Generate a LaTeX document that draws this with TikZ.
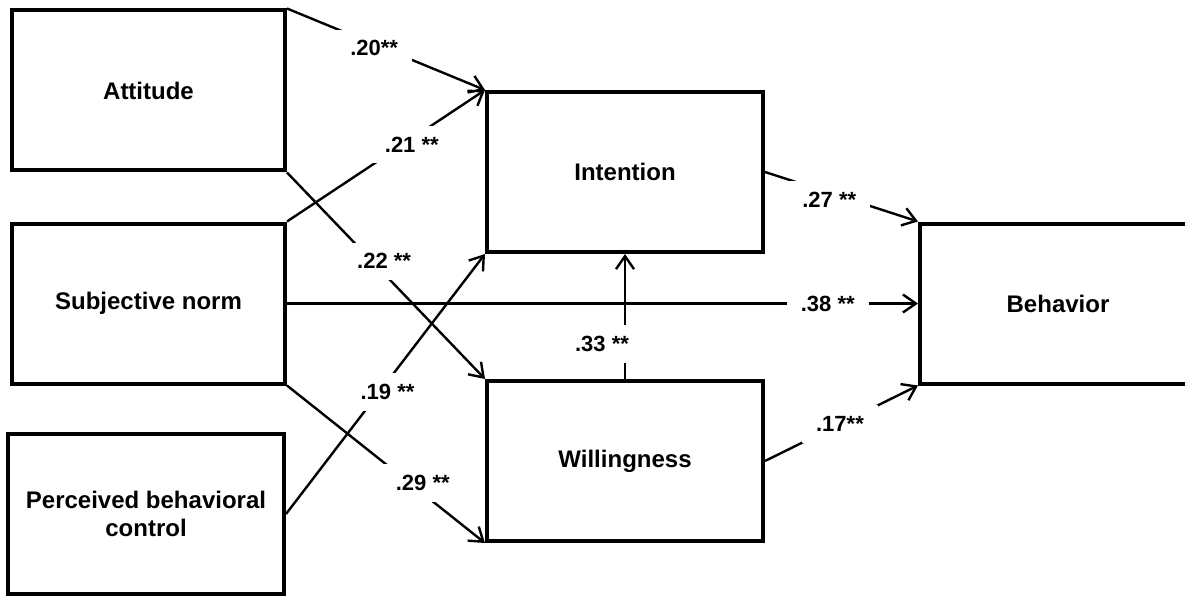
\documentclass[tikz,border=0pt]{standalone}
\usepackage{fontspec}
\setmainfont{Liberation Sans}
\usetikzlibrary{arrows.meta}

\begin{document}
\begin{tikzpicture}[x=1pt,y=-1pt,
    box/.style={draw, line width=4pt, minimum width=276pt, minimum height=160pt, align=center, font=\bfseries\fontsize{24}{28}\selectfont},
    link/.style={line width=2.4pt, ->},
    coef/.style={fill=white, inner xsep=14pt, inner ysep=11pt, font=\bfseries\fontsize{22}{24}\selectfont},
    >={Straight Barb[length=13pt,width=18pt]}]
    \useasboundingbox (0,0) rectangle (1185,596);
    \node[box, minimum width=273pt] (att) at (148.5,90.5) {Attitude};
    \node[box, minimum width=273pt] (sn) at (148.5,303.5) {Subjective norm};
    \node[box] (pbc) at (146,514) {Perceived behavioral\\control};
    \node[box] (int) at (625,172) {Intention};
    \node[box] (wil) at (625,461) {Willingness};
    \node[box] (beh) at (1058,303.5) {Behavior};
    \draw[link] (att.north east) -- (int.north west) node[coef, pos=.44, yshift=-4pt] {.20**};
    \draw[link] (sn.north east) -- (int.north west) node[coef, pos=.6, xshift=6pt, yshift=-2pt] {.21 **};
    \draw[link] (att.south east) -- (wil.north west) node[coef, pos=.43, xshift=12pt] {.22 **};
    \draw[link] (pbc.east) -- (int.south west) node[coef, pos=.47, xshift=8pt] {.19 **};
    \draw[link] (sn.south east) -- (wil.south west) node[coef, pos=.62, xshift=13pt] {.29 **};
    \draw[link] (sn.east) -- (beh.west) node[coef, pos=.857] {.38 **};
    \draw[link] (int.east) -- (beh.north west) node[coef, pos=.42, yshift=-7pt] {.27 **};
    \draw[link] (wil.east) -- (beh.south west) node[coef, pos=.49] {.17**};
    \draw[link] (wil.north) -- (int.south) node[coef, pos=.28, xshift=-23pt] {.33 **};
\end{tikzpicture}
\end{document}
